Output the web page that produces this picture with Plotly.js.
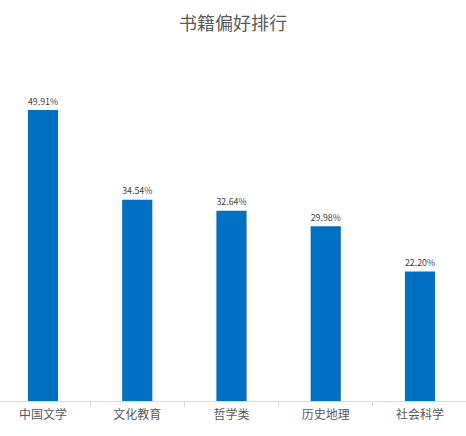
<!DOCTYPE html>
<html>
<head>
<meta charset="utf-8">
<script src="https://cdn.plot.ly/plotly-3.0.1.min.js"></script>
<style>
  html, body { margin: 0; padding: 0; background: #fff; }
  #chart { width: 466px; height: 436px; }
</style>
</head>
<body>
<div id="chart"></div>
<script>
// 书籍偏好排行
const categories = ["中国文学", "文化教育", "哲学类", "历史地理", "社会科学"];
const shares = [49.91, 34.54, 32.64, 29.98, 22.20];

const trace = {
    type: "bar",
    x: categories,
    y: shares,
    marker: { color: "#0070C0" },
    texttemplate: "%{y:.2f}%",
    textposition: "outside",
    cliponaxis: false,
    textfont: { size: 11, color: "#404040" },
    hoverinfo: "none"
};

const layout = {
    width: 466,
    height: 436,
    margin: { l: 0, r: 0, t: 60, b: 35 },
    paper_bgcolor: "#fff",
    plot_bgcolor: "#fff",
    font: { family: "'Noto Sans CJK SC', 'Noto Sans', sans-serif", color: "#595959" },
    title: {
        text: "书籍偏好排行",
        font: { size: 18, color: "#595959" },
        x: 0.5,
        xanchor: "center",
        y: 0.945,
        yanchor: "middle"
    },
    bargap: 0.68,
    showlegend: false,
    xaxis: {
        type: "category",
        range: [-0.456, 4.488],
        showline: true,
        linecolor: "#d9d9d9",
        linewidth: 1,
        ticks: "outside",
        tickson: "boundaries",
        ticklen: 5,
        tickcolor: "#d9d9d9",
        ticklabelstandoff: 3,
        tickfont: { size: 12, color: "#595959" },
        showgrid: false,
        zeroline: false
    },
    yaxis: {
        range: [0, 58.5],
        visible: false,
        showgrid: false,
        zeroline: false
    }
};

Plotly.newPlot("chart", [trace], layout, { displayModeBar: false, staticPlot: true });
</script>
</body>
</html>
